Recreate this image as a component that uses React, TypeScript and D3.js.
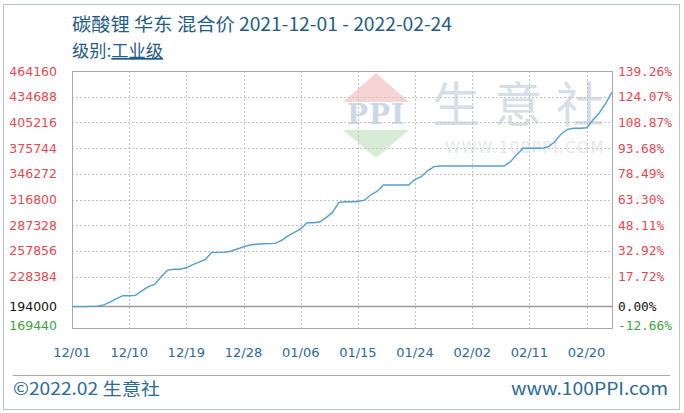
import { useMemo } from "react";
import * as d3 from "d3";

// daily price, 2021-12-01 .. 2022-02-24
const prices = [
  194000, 194000, 194000, 194200, 194500, 196000, 199000, 203000, 206500, 206500,
  206800, 212000, 216800, 219500, 228000, 235500, 236800, 236800, 238500, 242000,
  245000, 248000, 256200, 256200, 256200, 257500, 260000, 262500, 264600, 265500,
  266000, 266200, 266500, 270000, 275000, 279000, 283000, 290200, 290200, 291000,
  296000, 302000, 313500, 314300, 314300, 314500, 316000, 322000, 326000, 333400,
  333400, 333400, 333400, 333400, 340000, 343000, 350000, 354500, 355200, 355200,
  355200, 355200, 355200, 355200, 355200, 355200, 355200, 355200, 355200, 360000,
  368000, 375500, 375500, 375500, 375500, 377500, 383000, 392000, 397300, 398500,
  398500, 399000, 408000, 416000, 427000, 440000,
];
const startDate = new Date(2021, 11, 1);
const endDate = new Date(2022, 1, 24);
const baseValue = 194000;
const leftTicks = [464160, 434688, 405216, 375744, 346272, 316800, 287328, 257856, 228384];
const rightTicks = ["139.26%", "124.07%", "108.87%", "93.68%", "78.49%", "63.30%", "48.11%", "32.92%", "17.72%"];
const xTickLabels = ["12/01", "12/10", "12/19", "12/28", "01/06", "01/15", "01/24", "02/02", "02/11", "02/20"];
const yMin = 169440;
const yMax = 464160;

const W = 684;
const H = 413;
const M = { left: 72, right: 612, top: 71, bottom: 328 };

export default function App() {
  const x = useMemo(() => d3.scaleTime().domain([startDate, endDate]).range([M.left, M.right]), []);
  const y = useMemo(() => d3.scaleLinear().domain([yMin, yMax]).range([M.bottom, M.top]), []);
  const dates = d3.timeDay.range(startDate, d3.timeDay.offset(endDate, 1));
  const line = d3.line<number>()
    .x((_, i) => x(dates[i]))
    .y((d) => y(d));
  const parseTick = (s: string) => {
    const [m, d] = s.split("/").map(Number);
    return new Date(m === 12 ? 2021 : 2022, m - 1, d);
  };
  const numFont = "'DejaVu Sans', Verdana, sans-serif";
  const monoFont = "'DejaVu Sans Mono', monospace";
  const cjk = "'Noto Sans CJK SC', sans-serif";
  const blue = "#2a6a96";

  return (
    <div style={{ position: "fixed", left: 0, top: 0 }}>
      <svg width={W} height={H} style={{ display: "block", background: "#fff" }}>
        <rect x={3.5} y={4.5} width={676} height={405} fill="#fff" stroke="#b9c3cf" />

        {/* watermark */}
        <g opacity={0.9}>
          <path d="M376,73 L409,102 L343,102 Z" fill="#f6d0d0" />
          <text x={376} y={124} textAnchor="middle" fontFamily="'DejaVu Serif', serif" fontSize={28}
            fontWeight="bold" fill="#c9d3e6" letterSpacing={1}>PPI</text>
          <path d="M343,130 L409,130 L376,158 Z" fill="#d3ebd3" />
          <text x={525} y={122} textAnchor="middle" fontFamily={cjk} fontSize={48}
            fill="#d3dbe6" letterSpacing={14}>生意社</text>
          <text x={525} y={153} textAnchor="middle" fontFamily={numFont} fontSize={15}
            fill="#e2e6ec" letterSpacing={1.5}>WWW.100PPI.COM</text>
        </g>

        {/* grid */}
        {leftTicks.map((t) => (
          <line key={t} x1={M.left} x2={M.right} y1={Math.round(y(t)) + 0.5} y2={Math.round(y(t)) + 0.5}
            stroke="#c4c4c4" strokeDasharray="2,2" />
        ))}
        {xTickLabels.slice(1).map((t) => (
          <line key={t} x1={Math.round(x(parseTick(t))) + 0.5} x2={Math.round(x(parseTick(t))) + 0.5}
            y1={M.top} y2={M.bottom} stroke="#c4c4c4" strokeDasharray="2,2" />
        ))}
        <line x1={M.left} x2={M.right} y1={y(baseValue)} y2={y(baseValue)} stroke="#9a9a9a" strokeWidth={1.5} />
        <rect x={M.left + 0.5} y={M.top + 0.5} width={M.right - M.left} height={M.bottom - M.top}
          fill="none" stroke="#a8a8a8" />

        <path d={line(prices) ?? ""} fill="none" stroke="#4f9fd3" strokeWidth={1.4} />

        {/* left axis */}
        <g fontFamily={numFont} fontSize={12.5}>
          {leftTicks.map((t) => (
            <text key={t} x={57} y={y(t) + 4.5} textAnchor="end" fill="#e5474f">{t}</text>
          ))}
          <text x={57} y={y(baseValue) + 4.5} textAnchor="end" fill="#111">{baseValue}</text>
          <text x={57} y={y(yMin) + 2} textAnchor="end" fill="#3da33d">{yMin}</text>
        </g>

        {/* right axis */}
        <g fontFamily={monoFont} fontSize={12.8}>
          {rightTicks.map((t, i) => (
            <text key={t} x={618} y={y(leftTicks[i]) + 4.5} fill="#e5474f">{t}</text>
          ))}
          <text x={618} y={y(baseValue) + 4.5} fill="#111">0.00%</text>
          <text x={618} y={y(yMin) + 2} fill="#3da33d">-12.66%</text>
        </g>

        {/* x axis labels */}
        <g fontFamily={numFont} fontSize={13} fill={blue}>
          {xTickLabels.map((t) => (
            <text key={t} x={x(parseTick(t))} y={357} textAnchor="middle">{t}</text>
          ))}
        </g>

        {/* title */}
        <text x={72} y={31} fontFamily={cjk} fontSize={18} fill="#1f5c87"
          textLength={380} lengthAdjust="spacingAndGlyphs">
          碳酸锂 华东 混合价 2021-12-01 - 2022-02-24
        </text>
        <text x={72} y={57} fontFamily={cjk} fontSize={17} fill="#1f5c87"
          textLength={91} lengthAdjust="spacingAndGlyphs">
          级别:<tspan textDecoration="underline">工业级</tspan>
        </text>

        {/* footer */}
        <line x1={13} x2={670} y1={375.5} y2={375.5} stroke="#aaaaaa" />
        <text x={13} y={395} fontFamily={cjk} fontSize={17.5} fill={blue}
          textLength={147} lengthAdjust="spacingAndGlyphs">©2022.02 生意社</text>
        <text x={668} y={395} textAnchor="end" fontFamily={cjk} fontSize={17.5} fill={blue}
          textLength={157} lengthAdjust="spacingAndGlyphs">www.100PPI.com</text>
      </svg>
    </div>
  );
}
